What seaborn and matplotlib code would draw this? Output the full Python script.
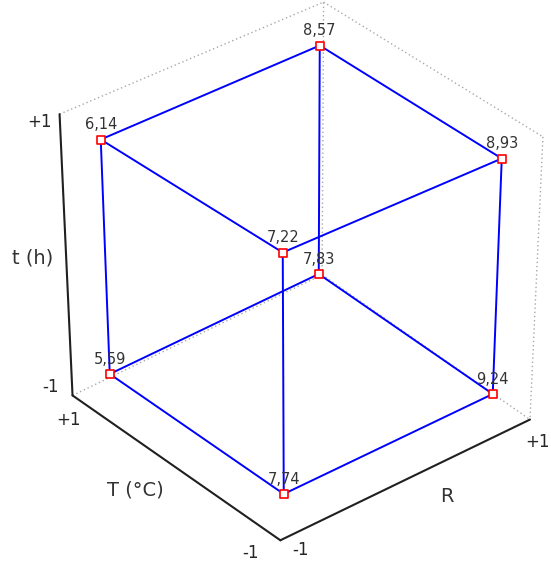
import numpy as np
import pandas as pd
import matplotlib
matplotlib.use("Agg")
import matplotlib.pyplot as plt
import seaborn as sns

sns.set_theme(style="white")
plt.rcParams['font.family'] = ['DejaVu Sans']

# ---------------------------------------------------
# Cube plot data: factor levels (coded) and response
# ---------------------------------------------------
R_level = [-1, 1, -1, 1, -1, 1, -1, 1]
T_level = [-1, -1, 1, 1, -1, -1, 1, 1]
t_level = [-1, -1, -1, -1, 1, 1, 1, 1]
response = [7.74, 9.24, 5.59, 7.83, 7.22, 8.93, 6.14, 8.57]

axis_names = ["R", "T (°C)", "t (h)"]
tick_labels = ["-1", "+1"]

# ---------------------------------------------------
# Simple oblique projection (with a touch of perspective)
# ---------------------------------------------------
cx, cy = 301.25, 266.5


def project(r, tt, h):
    r, tt, h = np.asarray(r, float), np.asarray(tt, float), np.asarray(h, float)
    x = cx + (107 + 2.5 * h) * r + (-89 - 2.0 * h) * tt
    y = cy + (-48.5 + 1.5 * h) * r + (-58.25 + 1.75 * h) * tt - 117.5 * h
    return x, y


pts = pd.DataFrame({"R": R_level, "T": T_level, "t": t_level, "y": response})
pts["px"], pts["py"] = project(pts["R"], pts["T"], pts["t"])

# cube edges: pairs of corners differing in one factor
edges = []
for i in range(8):
    for j in range(i + 1, 8):
        diff = (abs(R_level[i] - R_level[j]) + abs(T_level[i] - T_level[j])
                + abs(t_level[i] - t_level[j]))
        if diff == 2:
            edges.append((i, j))

rows = []
for k, (i, j) in enumerate(edges):
    for n in (i, j):
        rows.append({"edge": k, "px": pts.loc[n, "px"], "py": pts.loc[n, "py"]})
edge_df = pd.DataFrame(rows)

# ---------------------------------------------------
# Frame box (axes) a bit larger than the cube
# ---------------------------------------------------
a = 1.2
frame_solid = [
    [(-a, a, a), (-a, a, -a)],    # t axis
    [(-a, a, -a), (-a, -a, -a)],  # T axis
    [(-a, -a, -a), (a, -a, -a)],  # R axis
]
frame_dotted = [
    [(-a, a, a), (a, a, a)],
    [(a, a, a), (a, -a, a)],
    [(a, -a, a), (a, -a, -a)],
    [(-a, a, -a), (a, a, -a)],
    [(a, a, -a), (a, -a, -a)],
    [(a, a, -a), (a, a, a)],
]

fig = plt.figure(figsize=(5.51, 5.62), dpi=100)
ax = fig.add_axes([0, 0, 1, 1])

for seg in frame_dotted:
    xs, ys = project(*np.array(seg).T)
    ax.plot(xs, ys, color="#a8a8a8", lw=1, ls=(0, (1, 2)), zorder=1)
for seg in frame_solid:
    xs, ys = project(*np.array(seg).T)
    ax.plot(xs, ys, color="#202020", lw=1.5, zorder=2)

sns.lineplot(data=edge_df, x="px", y="py", units="edge", estimator=None,
             sort=False, color="#0000ff", lw=1.4, ax=ax, zorder=3)
ax.scatter(pts["px"], pts["py"], marker="s", s=40, facecolors="white",
           edgecolors="#ff0000", linewidths=1.2, zorder=4)

for _, p in pts.iterrows():
    ax.text(p["px"], p["py"] - 15, f"{p['y']:.2f}".replace(".", ","),
            ha="center", va="center", fontsize=10.5, color="#333333", zorder=5)

# tick labels
tick_fs = 12
tx, ty = project([-a, -a], [a, a], [a, -a])
ax.text(tx[0] - 20, ty[0] + 8, tick_labels[1], ha="center", va="center", fontsize=tick_fs)
ax.text(tx[1] - 22, ty[1] - 8, tick_labels[0], ha="center", va="center", fontsize=tick_fs)
tx, ty = project([-a, -a], [a, -a], [-a, -a])
ax.text(tx[0] - 4, ty[0] + 25, tick_labels[1], ha="center", va="center", fontsize=tick_fs)
ax.text(tx[1] - 30, ty[1] + 13, tick_labels[0], ha="center", va="center", fontsize=tick_fs)
tx, ty = project([-a, a], [-a, -a], [-a, -a])
ax.text(tx[0] + 20, ty[0] + 10, tick_labels[0], ha="center", va="center", fontsize=tick_fs)
ax.text(tx[1] + 8, ty[1] + 22, tick_labels[1], ha="center", va="center", fontsize=tick_fs)

# axis titles
lab_fs = 14
mx, my = project(0, -a, -a)
ax.text(mx + 42, my + 17, axis_names[0], ha="center", va="center", fontsize=lab_fs, color="#333333")
mx, my = project(-a, 0, -a)
ax.text(mx - 41, my + 22, axis_names[1], ha="center", va="center", fontsize=lab_fs, color="#333333")
mx, my = project(-a, a, 0)
ax.text(mx - 33, my + 3, axis_names[2], ha="center", va="center", fontsize=lab_fs, color="#333333")

ax.set_xlim(0, 551)
ax.set_ylim(562, 0)
ax.set_axis_off()

fig.savefig("out.png", dpi=100)
